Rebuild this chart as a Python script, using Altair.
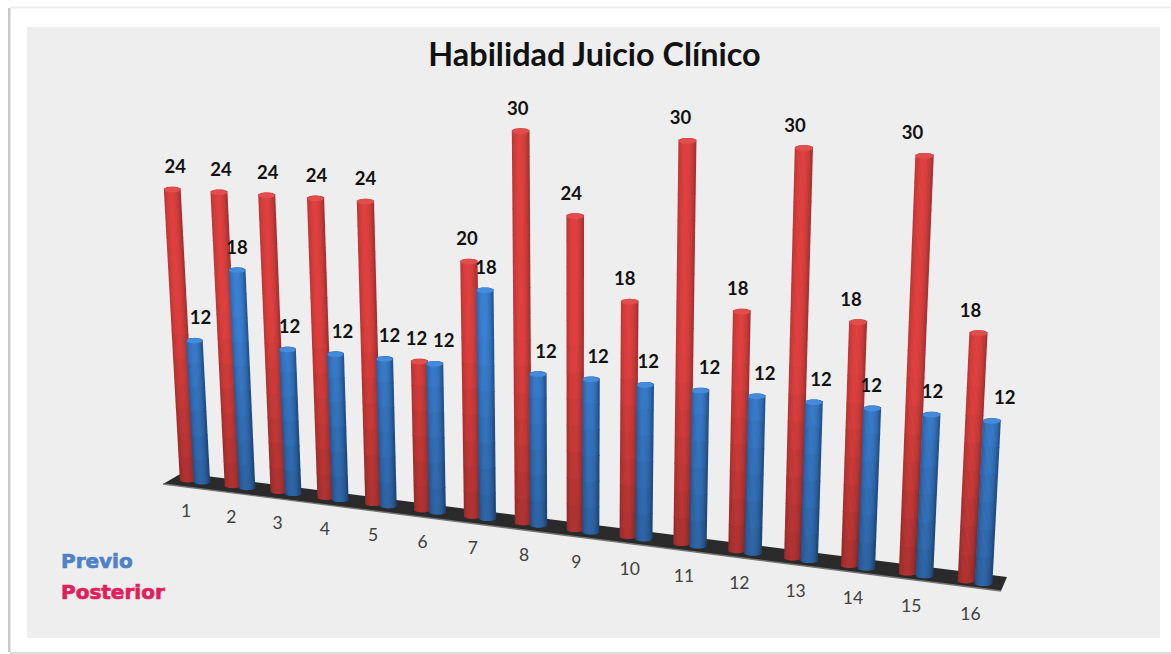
import math
import altair as alt
import pandas as pd

# ---- chart values ----
categories = list(range(1, 17))
posterior = [24, 24, 24, 24, 24, 12, 20, 30, 24, 18, 30, 18, 30, 18, 30, 18]
previo = [12, 18, 12, 12, 12, 12, 18, 12, 12, 12, 12, 12, 12, 12, 12, 12]
title_text = "Habilidad Juicio Clínico"

# ---- hand placement of the value labels, relative to the top of each column ----
posterior_label_dx = [3, 2, 1, 1, 0, -3, -2, -3, -4, -5, -7, -4, -9, -7, -12, -8]
previo_label_dx = [6, 0, 2, 7, 5, 9, 1, 8, 7, 3, 9, 8, 7, -1, 1, 13]

W, H = 1171, 654
STRIPS = 14


def ground(t, series):
    """Foot of a column on the slanted floor; t is the category position."""
    x = 188 + 44.4 * t + 0.5 * t * t
    y = 482 + 5.62 * t + 0.074 * t * t
    if series == "Previo":
        x += 14 + 0.2 * t
        y += 2 + 0.05 * t
    return x, y


def lift(t, series, v):
    """Perspective projection of a point v units above the floor."""
    x, y = ground(t, series)
    return x + (x - 575) * 0.0017 * v, y - (12.0 + 0.118 * t) * (1 + 0.001 * v) * v


def mix(a, b, f):
    return tuple(a[k] + (b[k] - a[k]) * f for k in range(3))


def to_hex(c):
    return "#%02x%02x%02x" % tuple(int(round(max(0, min(255, k)))) for k in c)


EDGE = {"Posterior": (168, 50, 50), "Previo": (38, 88, 150)}
CORE = {"Posterior": (222, 64, 62), "Previo": (58, 128, 210)}
CAP = {"Posterior": "#e24e4c", "Previo": "#458bdc"}


def column(t, series, value):
    """Split one cylinder into shaded strips, darker towards the floor."""
    rows = []
    x0, y0 = ground(t, series)
    x1, y1 = lift(t, series, value)
    w0 = 15.5 + 0.1 * t
    w1 = w0 * (1 + 0.0017 * value)
    e = 2.6
    segs = max(2, int(value / 2))
    for s in range(STRIPS):
        u = -1 + (2 * s + 1) / STRIPS
        round_end = math.sqrt(max(0, 1 - u * u))
        # light falls slightly left of the axis
        shade = mix(EDGE[series], CORE[series], math.cos(min(1.0, abs(u + 0.08)) * math.pi / 2) ** 0.7)
        xa = x0 + u * w0 / 2
        ya = y0 - e + e * round_end
        xb = x1 + u * w1 / 2
        yb = y1 + e - e * round_end
        for g in range(segs):
            f0, f1 = g / segs, (g + 1) / segs
            height_units = (f0 + f1) / 2 * value
            light = 0.78 + 0.22 * min(1, height_units / 14)
            rows.append({
                "x": xa + (xb - xa) * f0,
                "y": ya + (yb - ya) * f0 + 0.4,
                "x2": xa + (xb - xa) * f1,
                "y2": ya + (yb - ya) * f1 - 0.4,
                "shade": to_hex(tuple(k * light for k in shade)),
            })
    return rows


def series_frames(series, values):
    strips, caps, tops = [], [], []
    for t, v in enumerate(values):
        strips += column(t, series, v)
        x1, y1 = lift(t, series, v)
        w1 = (15.5 + 0.1 * t) * (1 + 0.0017 * v)
        caps.append({"x": x1, "y": y1 + 2.6, "size": w1 * w1})
        tops.append({"x": x1, "y": y1, "value": str(v)})
    return pd.DataFrame(strips), pd.DataFrame(caps), pd.DataFrame(tops)


x_enc = alt.X("x:Q", axis=None, scale=alt.Scale(domain=[0, W], nice=False, zero=False))
y_enc = alt.Y("y:Q", axis=None, scale=alt.Scale(domain=[H, 0], nice=False, zero=False))


def boxes(rows):
    return alt.Chart(pd.DataFrame(rows)).mark_rect(strokeWidth=0).encode(
        x=x_enc, x2="x2:Q", y=y_enc, y2="y2:Q",
        color=alt.Color("c:N", scale=None),
    )


# page frame and grey panel
frame = boxes([
    {"x": 8, "x2": 10.5, "y": 8, "y2": 652, "c": "#c9c9c9"},
    {"x": 10, "x2": W, "y": 6.5, "y2": 8.5, "c": "#eeeeee"},
    {"x": 10, "x2": W, "y": 652, "y2": H, "c": "#dddddd"},
    {"x": 27, "x2": 1160, "y": 27, "y2": 638, "c": "#eeeeee"},
])

# floor slab under the columns
left, back_left, front_right, right = (163, 484), (182, 473), (1001, 591), (1007, 577)
front_at = lambda x: left[1] + (front_right[1] - left[1]) * (x - left[0]) / (front_right[0] - left[0])
back_at = lambda x: back_left[1] + (right[1] - back_left[1]) * (x - back_left[0]) / (right[0] - back_left[0])
floor_df = pd.DataFrame([
    {"x": left[0], "y": left[1], "y2": left[1]},
    {"x": back_left[0], "y": back_left[1], "y2": front_at(back_left[0])},
    {"x": front_right[0], "y": back_at(front_right[0]), "y2": front_right[1]},
    {"x": right[0], "y": right[1], "y2": right[1]},
])
floor = alt.Chart(floor_df).mark_area(color="#2a2a2a", interpolate="linear").encode(
    x=x_enc, y=y_enc, y2="y2:Q"
)
floor_lip = alt.Chart(pd.DataFrame([{
    "x": left[0], "y": left[1], "x2": front_right[0], "y2": front_right[1],
}])).mark_rule(color="#777777", strokeWidth=1.4).encode(x=x_enc, x2="x2:Q", y=y_enc, y2="y2:Q")


def cylinders(strips_df, caps_df, series):
    body = alt.Chart(strips_df).mark_rule(strokeWidth=1.9, strokeCap="butt").encode(
        x=x_enc, x2="x2:Q", y=y_enc, y2="y2:Q",
        color=alt.Color("shade:N", scale=None),
    )
    lid = alt.Chart(caps_df).mark_point(
        shape="M-1,0 A1,0.32 0 1 1 1,0 A1,0.32 0 1 1 -1,0 Z",
        filled=True, opacity=1, strokeWidth=0, color=CAP[series],
    ).encode(x=x_enc, y=y_enc, size=alt.Size("size:Q", scale=None))
    return body + lid


post_strips, post_caps, post_tops = series_frames("Posterior", posterior)
prev_strips, prev_caps, prev_tops = series_frames("Previo", previo)
post_tops["x"] += posterior_label_dx
prev_tops["x"] += previo_label_dx
value_labels = pd.concat([post_tops, prev_tops])
value_labels["y"] -= 14

labels = alt.Chart(value_labels).mark_text(
    font="Lato", fontWeight="bold", fontSize=18.5, color="#111111", align="center", baseline="alphabetic"
).encode(x=x_enc, y=y_enc, text="value:N")

tick_rows = []
for t, c in enumerate(categories):
    gx, gy = ground(t, "Posterior")
    tick_rows.append({"x": gx - 2 + 0.4 * t, "y": gy + 35 + 0.13 * t, "value": str(c)})
ticks = alt.Chart(pd.DataFrame(tick_rows)).mark_text(
    font="Lato", fontSize=17.5, color="#404040", align="center", baseline="alphabetic"
).encode(x=x_enc, y=y_enc, text="value:N")

title = alt.Chart(pd.DataFrame([{"x": 594.5, "y": 66, "value": title_text}])).mark_text(
    font="Lato", fontWeight="bold", fontSize=32.4, color="#111111", align="center", baseline="alphabetic"
).encode(x=x_enc, y=y_enc, text="value:N")

legend_df = pd.DataFrame([
    {"x": 61, "y": 568, "value": "Previo", "c": "#4f81c7"},
    {"x": 61, "y": 598.5, "value": "Posterior", "c": "#e01e5c"},
])
legend = alt.Chart(legend_df).mark_text(
    font="DejaVu Sans", fontWeight="bold", fontSize=20, align="left", baseline="alphabetic", strokeWidth=0.7
).encode(
    x=x_enc, y=y_enc, text="value:N",
    color=alt.Color("c:N", scale=None),
    stroke=alt.Stroke("c:N", scale=None),
)

chart = alt.layer(
    frame, floor, floor_lip,
    cylinders(post_strips, post_caps, "Posterior"),
    cylinders(prev_strips, prev_caps, "Previo"),
    ticks, labels, title, legend,
).properties(
    width=W, height=H, padding=0, background="#ffffff",
    autosize=alt.AutoSizeParams(type="none"),
).configure_view(strokeWidth=0)

chart.save("out.html", embed_options={"renderer": "svg", "actions": False})
